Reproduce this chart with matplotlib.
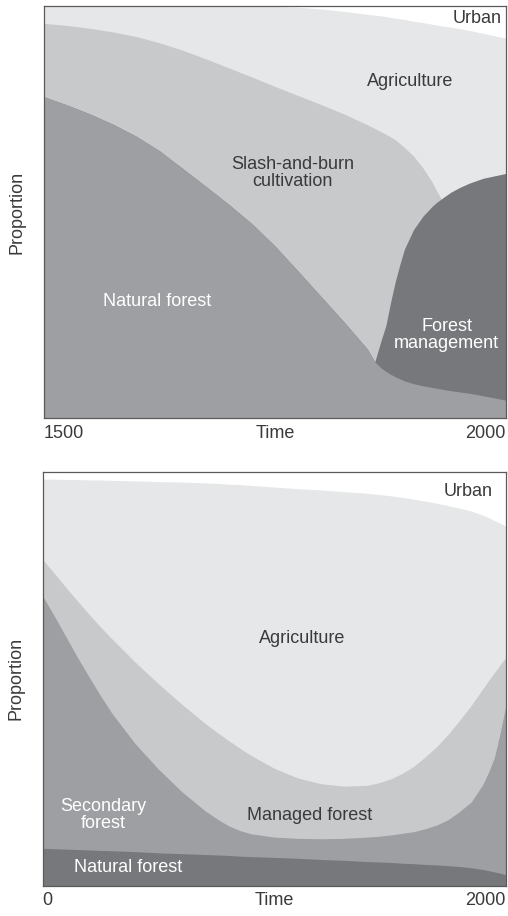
import numpy as np
import matplotlib
matplotlib.use("Agg")
import matplotlib.pyplot as plt

plt.rcParams['font.family'] = ['Liberation Sans', 'DejaVu Sans']

# Cumulative proportions (upper edge of each land-use band, stacked bottom to top).
# The area above the last edge up to 1.0 is urban.

# ---- upper panel: 1500-2000 ----
years_a = [1500, 1525, 1550, 1575, 1600, 1625, 1650, 1675, 1700, 1725, 1750, 1775,
           1800, 1825, 1850, 1858, 1865, 1870, 1875, 1880, 1885, 1890, 1900, 1910,
           1920, 1925, 1930, 1940, 1950, 1960, 1975, 2000]
natural_top_a = [0.780, 0.760, 0.738, 0.713, 0.684, 0.649, 0.606, 0.563, 0.519, 0.472, 0.418, 0.357,
                 0.295, 0.233, 0.168, 0.137, 0.122, 0.114, 0.107, 0.101, 0.096, 0.091, 0.084, 0.079,
                 0.075, 0.073, 0.071, 0.067, 0.064, 0.061, 0.055, 0.044]
management_top_a = [0.780, 0.760, 0.738, 0.713, 0.684, 0.649, 0.606, 0.563, 0.519, 0.472, 0.418, 0.357,
                    0.295, 0.233, 0.168, 0.137, 0.190, 0.225, 0.280, 0.330, 0.372, 0.410, 0.458, 0.490,
                    0.514, 0.524, 0.532, 0.548, 0.560, 0.570, 0.582, 0.594]
slash_top_a = [0.958, 0.953, 0.946, 0.937, 0.926, 0.911, 0.893, 0.872, 0.850, 0.828, 0.805, 0.783,
               0.761, 0.738, 0.712, 0.703, 0.695, 0.689, 0.683, 0.676, 0.667, 0.657, 0.636, 0.608,
               0.573, 0.552, 0.532, 0.548, 0.560, 0.570, 0.582, 0.594]
agri_top_a = [1.000, 1.000, 1.000, 1.000, 1.000, 1.000, 1.000, 1.000, 1.000, 1.000, 0.999, 0.997,
              0.993, 0.987, 0.980, 0.978, 0.976, 0.975, 0.972, 0.971, 0.969, 0.968, 0.963, 0.960,
              0.956, 0.954, 0.952, 0.949, 0.945, 0.941, 0.934, 0.922]

# ---- lower panel: 0-2000 ----
years_b = [0, 50, 100, 150, 200, 250, 300, 400, 500, 600, 700, 750, 800, 850, 900, 1000,
           1100, 1200, 1300, 1400, 1450, 1500, 1550, 1600, 1650, 1700, 1750, 1800, 1850,
           1900, 1925, 1950, 1975, 2000]
natural_top_b = [0.091, 0.090, 0.089, 0.088, 0.087, 0.086, 0.085, 0.083, 0.080, 0.078, 0.076, 0.075,
                 0.074, 0.072, 0.071, 0.069, 0.067, 0.064, 0.062, 0.059, 0.058, 0.057, 0.055, 0.054,
                 0.052, 0.051, 0.049, 0.047, 0.044, 0.040, 0.037, 0.034, 0.031, 0.027]
secondary_top_b = [0.700, 0.652, 0.602, 0.552, 0.505, 0.459, 0.416, 0.343, 0.282, 0.228, 0.182, 0.163,
                   0.146, 0.134, 0.126, 0.118, 0.115, 0.114, 0.115, 0.118, 0.120, 0.123, 0.127, 0.131,
                   0.138, 0.147, 0.160, 0.180, 0.203, 0.245, 0.275, 0.310, 0.370, 0.437]
managed_top_b = [0.788, 0.755, 0.721, 0.688, 0.656, 0.625, 0.596, 0.540, 0.488, 0.439, 0.393, 0.372,
                 0.352, 0.333, 0.315, 0.284, 0.261, 0.247, 0.241, 0.243, 0.249, 0.258, 0.271, 0.288,
                 0.311, 0.336, 0.366, 0.400, 0.436, 0.476, 0.496, 0.515, 0.534, 0.552]
agri_top_b = [0.982, 0.982, 0.981, 0.981, 0.980, 0.980, 0.979, 0.978, 0.976, 0.975, 0.973, 0.972,
              0.970, 0.969, 0.967, 0.963, 0.959, 0.956, 0.952, 0.948, 0.945, 0.942, 0.938, 0.934,
              0.929, 0.924, 0.918, 0.912, 0.905, 0.895, 0.889, 0.882, 0.876, 0.868]

c_light = '#e6e7e8'
c_mid = '#c8c9cb'
c_grey = '#9e9fa2'
c_dark = '#77787b'
txt = '#3a3a3a'


def bands(ax, x, edges, colors):
    # paint from the top band down so neighbouring bands leave no seams
    for edge, col in zip(edges[::-1], colors[::-1]):
        ax.fill_between(x, 0, edge, color=col, linewidth=0)


def style(ax, x0, x1):
    ax.set_xlim(x0, x1)
    ax.set_ylim(0, 1)
    ax.set_yticks([])
    ax.set_xticks([x0, x1], [str(x0), str(x1)])
    ax.tick_params(axis='x', length=0, pad=4.5, labelsize=13, labelcolor=txt)
    labs = ax.get_xticklabels()
    labs[0].set_horizontalalignment('left')
    labs[1].set_horizontalalignment('right')
    ax.set_xlabel('Time', fontsize=13, color=txt)
    ax.xaxis.set_label_coords(0.5, -4.5 * 100 / 72 / ax.bbox.height)
    ax.xaxis.label.set_verticalalignment('top')
    ax.set_ylabel('Proportion', fontsize=13, color=txt)
    ax.yaxis.set_label_coords(-0.039, 0.5)
    for s in ax.spines.values():
        s.set_color('#5a5a5a')
        s.set_linewidth(0.9)
    ax.set_facecolor('white')


fig = plt.figure(figsize=(5.08, 9.16), dpi=100)

ax1 = fig.add_axes([0.0866, 0.5433, 0.9094, 0.4501])
bands(ax1, years_a, [natural_top_a, management_top_a, slash_top_a, agri_top_a],
      [c_grey, c_dark, c_mid, c_light])
style(ax1, 1500, 2000)
ax1.text(1995, 0.970, 'Urban', ha='right', va='center', fontsize=13, color=txt)
ax1.text(1896, 0.816, 'Agriculture', ha='center', va='center', fontsize=13, color=txt)
ax1.text(1769, 0.595, 'Slash-and-burn\ncultivation', ha='center', va='center',
         fontsize=13, color=txt, linespacing=1.05)
ax1.text(1622, 0.283, 'Natural forest', ha='center', va='center', fontsize=13, color='white')
ax1.text(1936, 0.202, 'Forest\nmanagement', ha='center', va='center', fontsize=13,
         color='white', linespacing=1.05)

ax2 = fig.add_axes([0.084, 0.03275, 0.912, 0.4523])
bands(ax2, years_b, [natural_top_b, secondary_top_b, managed_top_b, agri_top_b],
      [c_dark, c_grey, c_mid, c_light])
style(ax2, 0, 2000)
ax2.text(1943, 0.953, 'Urban', ha='right', va='center', fontsize=13, color=txt)
ax2.text(1119, 0.597, 'Agriculture', ha='center', va='center', fontsize=13, color=txt)
ax2.text(262, 0.171, 'Secondary\nforest', ha='center', va='center', fontsize=13,
         color='white', linespacing=1.05)
ax2.text(1154, 0.171, 'Managed forest', ha='center', va='center', fontsize=13, color=txt)
ax2.text(370, 0.045, 'Natural forest', ha='center', va='center', fontsize=13, color='white')

fig.savefig('out.png', dpi=100)
